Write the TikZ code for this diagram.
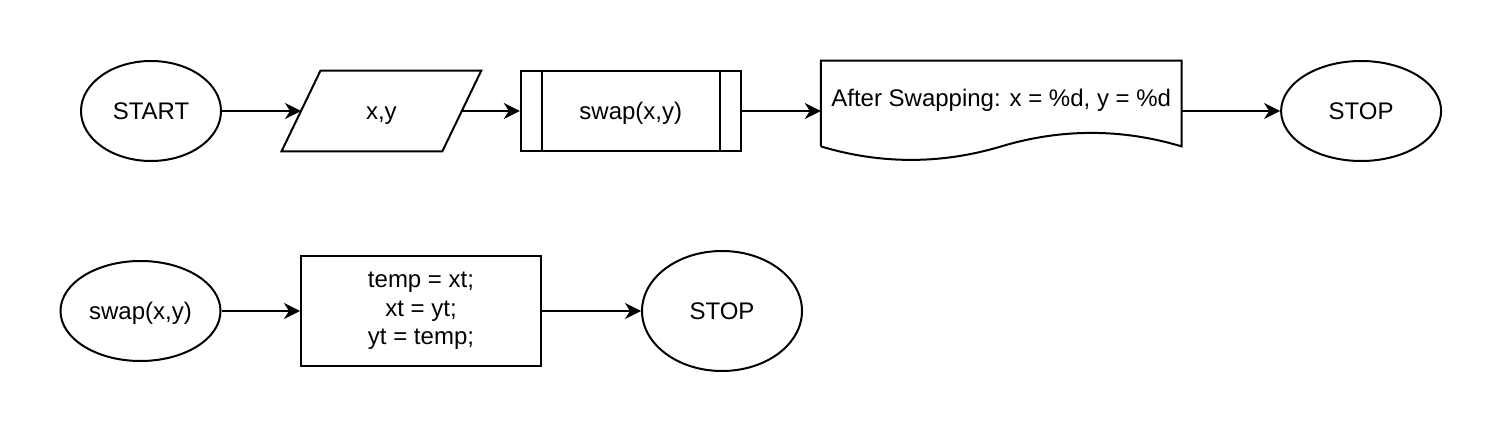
\documentclass[tikz,border=0pt]{standalone}
\usepackage{fontspec}
\setmainfont{Liberation Sans}
\usetikzlibrary{arrows.meta,positioning,shapes.geometric}
\definecolor{FlowInk}{HTML}{000000}

\begin{document}
\begin{tikzpicture}[
      node distance=40pt,
      every node/.style={font=\fontsize{12pt}{14.25pt}\selectfont,text=FlowInk},
      oneline/.style={text height=8.6pt,text depth=0pt},
      term/.style={draw=FlowInk,line width=1pt,ellipse,inner sep=0pt,oneline,
                   minimum width=70pt,minimum height=50pt},
      iobox/.style={rectangle,inner sep=0pt,oneline,
                    minimum width=80pt,minimum height=40pt},
      procbox/.style={draw=FlowInk,line width=1pt,rectangle,inner sep=0pt,
                      minimum width=110pt,minimum height=40pt},
      docbox/.style={rectangle,inner sep=0pt,
                     minimum width=180pt,minimum height=50pt},
      edge line/.style={line width=1pt,FlowInk},
      arr/.style={-{Stealth[length=8pt,width=8pt,inset=2.5pt]},line width=1pt,FlowInk},
    ]
    \useasboundingbox (0,0) rectangle (751pt,-216pt);

    % main program
    \node[term] (start) at (75.5pt,-55.5pt) {START};
    \node[iobox,right=39.5pt of start] (read) {x,y};
    \node[procbox,oneline,right=29pt of read] (call) {swap(x,y)};
    \node[docbox,right=39.5pt of call] (show) {};
    \node[oneline] (showtxt) at ([yshift=6.75pt]show.center) {After Swapping: x = \%d, y = \%d};
    \node[term,minimum width=80pt,right=49.25pt of show] (stop) {STOP};

    % input slant, process bars, document wave
    \draw[edge line] ([xshift=9.75pt]read.north west) -- ([xshift=9.75pt]read.north east)
      -- ([xshift=-9.75pt]read.south east) -- ([xshift=-9.75pt]read.south west) -- cycle;
    \draw[edge line] ([xshift=11pt]call.north west) -- ([xshift=11pt]call.south west);
    \draw[edge line] ([xshift=-11pt]call.north east) -- ([xshift=-11pt]call.south east);
    \draw[edge line] ([yshift=7.5pt]show.south west) -- (show.north west)
      -- (show.north east) -- ([yshift=7.5pt]show.south east)
      .. controls ([xshift=-30pt,yshift=16.5pt]show.south east)
         and ([xshift=30pt,yshift=16.5pt]show.south) .. ([yshift=7.5pt]show.south)
      .. controls ([xshift=-30pt,yshift=-1.5pt]show.south)
         and ([xshift=30pt,yshift=-1.5pt]show.south west) .. ([yshift=7.5pt]show.south west);

    \draw[arr] (start) -- (read);
    \draw[arr] (read) -- (call);
    \draw[arr] (call) -- (show);
    \draw[arr] (show) -- (stop);

    % function swap
    \node[term,minimum width=80pt] (func) at (70.25pt,-155.5pt) {swap(x,y)};
    \node[procbox,minimum width=120pt,minimum height=55pt,align=center,
          right=39.25pt of func] (body) {temp = xt;\\ xt = yt;\\ yt = temp;};
    \node[term,minimum width=80pt,minimum height=60pt,right=49.5pt of body] (stop2) {STOP};

    \draw[arr] (func) -- (body);
    \draw[arr] (body) -- (stop2);
  \end{tikzpicture}
\end{document}
